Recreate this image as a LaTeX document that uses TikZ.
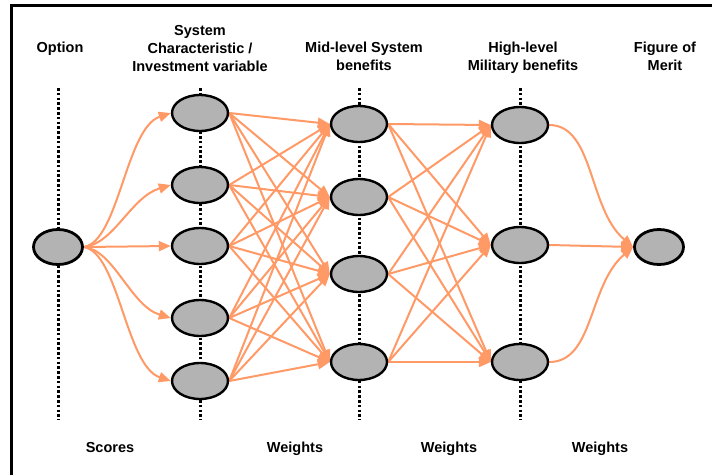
\documentclass[tikz,border=0pt]{standalone}
\usepackage{fontspec}
\setmainfont{Liberation Sans}
\usetikzlibrary{arrows.meta,shapes.geometric,backgrounds}
\definecolor{edgeorange}{RGB}{255,153,102}
\definecolor{nodegray}{RGB}{179,179,179}
\begin{document}
\begin{tikzpicture}[x=1pt,y=-1pt,
  stage/.style={ellipse, draw=black, line width=2.4pt, fill=nodegray,
    minimum width=56pt, minimum height=36pt, inner sep=0pt},
  endstage/.style={stage, line width=2.8pt, minimum width=49pt, minimum height=35pt},
  link/.style={draw=edgeorange, line width=2pt,
    -{Triangle[length=12pt,width=10pt]}},
  guide/.style={line width=3pt, dash pattern=on 2.6pt off 2.2pt},
  heading/.style={font=\bfseries\fontsize{14.5}{18}\selectfont,
    align=center, inner sep=0pt, anchor=north},
]
\useasboundingbox (0,0) rectangle (712,474);

% open frame: top and left edges
\draw[line width=3pt] (11,480) -- (11,5) -- (720,5);

% column headings
\node[heading] (hOpt)  at (60,42)  {Option};
\node[heading] (hSys)  at (200,25) {System\\Characteristic /\\Investment variable};
\node[heading] (hMid)  at (364,42) {Mid-level System\\benefits};
\node[heading] (hHigh) at (523,42) {High-level\\Military benefits};
\node[heading] (hFom)  at (665,42) {Figure of\\Merit};

% labels between columns
\node[heading] (lScores) at (110,442) {Scores};
\node[heading] (lW1)     at (295,442) {Weights};
\node[heading] (lW2)     at (449,442) {Weights};
\node[heading] (lW3)     at (600,442) {Weights};

% option
\node[endstage] (o) at (58,247) {};
% system characteristics / investment variables
\node[stage] (a1) at (200,113) {};
\node[stage] (a2) at (200,185) {};
\node[stage] (a3) at (200,246) {};
\node[stage] (a4) at (200,318) {};
\node[stage] (a5) at (200,381) {};
% mid-level system benefits
\node[stage] (b1) at (359,124) {};
\node[stage] (b2) at (359,197) {};
\node[stage] (b3) at (359,274) {};
\node[stage] (b4) at (359,362) {};
% high-level military benefits
\node[stage] (c1) at (520,125) {};
\node[stage] (c2) at (520,245) {};
\node[stage] (c3) at (520,362) {};
% figure of merit
\node[endstage] (f) at (659,247) {};

\begin{scope}[on background layer]
  % dotted column guides
  \foreach \x in {58,200,359,520}
    \draw[guide] (\x,88) -- (\x,420);

  % option -> characteristics (scores)
  \draw[link] (o.east) .. controls +(35,-6) and +(-45,15) .. (a1.west);
  \draw[link] (o.east) .. controls +(30,-3) and +(-40,12) .. (a2.west);
  \draw[link] (o.east) -- (a3.west);
  \draw[link] (o.east) .. controls +(30,3) and +(-40,-12) .. (a4.west);
  \draw[link] (o.east) .. controls +(35,6) and +(-45,-15) .. (a5.west);

  % characteristics -> mid-level benefits
  \foreach \i in {1,...,5}
    \foreach \j in {1,...,4}
      \draw[link] (a\i.east) -- (b\j.west);

  % mid-level -> high-level benefits
  \foreach \i in {1,...,4}
    \foreach \j in {1,...,3}
      \draw[link] (b\i.east) -- (c\j.west);

  % high-level benefits -> figure of merit
  \draw[link] (c1.east) .. controls +(45,0) and +(-45,-38) .. (f.west);
  \draw[link] (c2.east) -- (f.west);
  \draw[link] (c3.east) .. controls +(45,0) and +(-45,38) .. (f.west);
\end{scope}
\end{tikzpicture}
\end{document}
